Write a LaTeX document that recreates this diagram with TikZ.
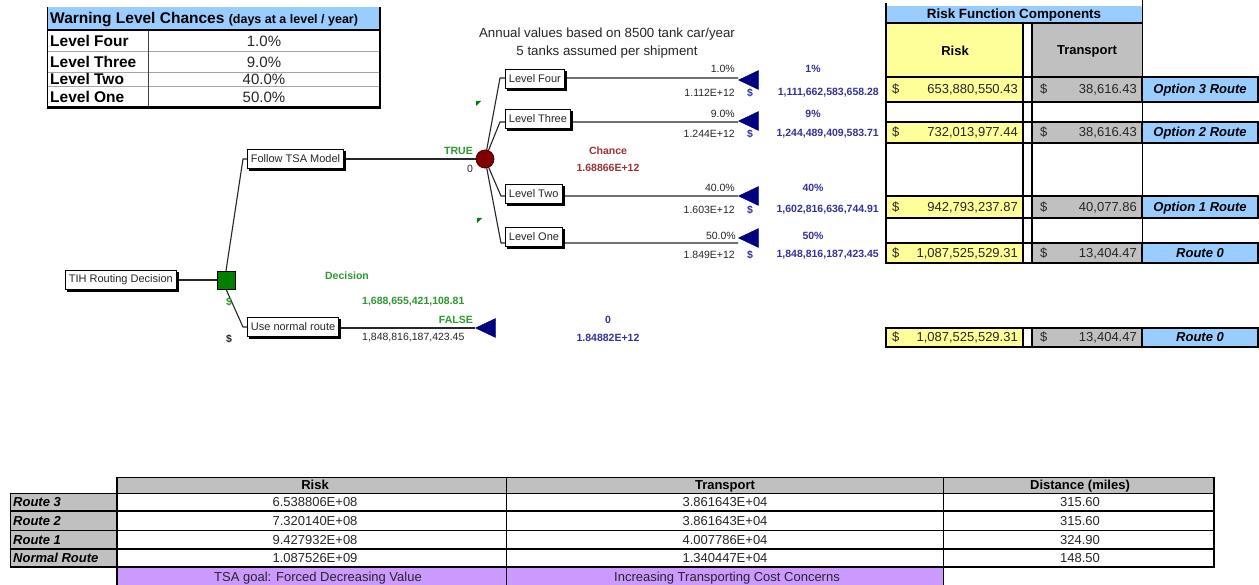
\documentclass[tikz,border=0pt]{standalone}
\usepackage{fontspec}
\setmainfont{Liberation Sans}
\usetikzlibrary{shapes.geometric,shadows}

\definecolor{hdrblue}{HTML}{99CCFF}
\definecolor{cellyellow}{HTML}{FFFF99}
\definecolor{cellgray}{HTML}{C0C0C0}
\definecolor{cellpurple}{HTML}{CC99FF}
\definecolor{decgreen}{HTML}{008000}
\definecolor{txtgreen}{HTML}{2E9A2E}
\definecolor{chred}{HTML}{800000}
\definecolor{chtxt}{HTML}{993333}
\definecolor{navy}{HTML}{000080}
\definecolor{valblue}{HTML}{333399}
\definecolor{ink}{HTML}{262626}

\pgfdeclarelayer{bg}
\pgfsetlayers{bg,main}

\tikzset{
  fs/.style={font=\fontsize{#1}{#1}\selectfont},
  fsb/.style={font=\fontsize{#1}{#1}\selectfont\bfseries},
  plain/.style={inner sep=0pt, text=ink},
  treebox/.style={draw=black, fill=white, line width=0.8pt, inner xsep=3.5pt,
    inner ysep=0pt, minimum height=19pt, anchor=west, text=ink,
    font=\fontsize{11}{11}\selectfont,
    copy shadow={shadow xshift=2pt, shadow yshift=-2pt, draw=black, fill=black}},
  treeline/.style={draw=black!85, line width=1.1pt},
  term/.style={isosceles triangle, isosceles triangle stretches,
    shape border rotate=180, minimum width=19pt, minimum height=20pt,
    inner sep=0pt, fill=navy, draw=navy},
  tblk/.style={draw=black, line width=1.6pt},
  tthin/.style={draw=black, line width=1pt},
  cell/.style={inner sep=0pt, text=ink, font=\fontsize{13}{13}\selectfont},
  optlbl/.style={inner sep=0pt, text=black, font=\fontsize{13}{13}\selectfont\bfseries\itshape},
  bcell/.style={inner sep=0pt, text=ink, font=\fontsize{13}{13}\selectfont},
  blbl/.style={inner sep=0pt, text=black, font=\fontsize{13}{13}\selectfont\bfseries\itshape},
  bhead/.style={inner sep=0pt, text=black, font=\fontsize{13}{13}\selectfont\bfseries},
}

% one valued row of the risk function components table
% #1 name, #2 top, #3 bottom, #4 baseline, #5 risk, #6 transport, #7 route label
\newcommand\rfrow[7]{%
  \fill[cellyellow] (886,#2) rectangle (1023,#3);
  \fill[cellgray] (1032,#2) rectangle (1142,#3);
  \fill[hdrblue] (1142,#2) rectangle (1258,#3);
  \draw[tblk] (886,#2) rectangle (1023,#3) (1023,#2) rectangle (1032,#3)
    (1032,#2) rectangle (1142,#3) (1142,#2) rectangle (1258,#3);
  \node[cell, anchor=base west] (#1d1) at (892,#4) {\$};
  \node[cell, anchor=base east] (#1r) at (1018,#4) {#5};
  \node[cell, anchor=base west] (#1d2) at (1040,#4) {\$};
  \node[cell, anchor=base east] (#1t) at (1137,#4) {#6};
  \node[optlbl, anchor=base] (#1o) at (1200,#4) {#7};
}

% one data row of the route summary table
% #1 name, #2 top, #3 bottom, #4 baseline, #5 label, #6 risk, #7 transport, #8 distance
\newcommand\btrow[8]{%
  \fill[cellgray] (10,#2) rectangle (117,#3);
  \draw[tthin] (10,#2) rectangle (117,#3) (117,#2) rectangle (506,#3)
    (506,#2) rectangle (943,#3) (943,#2) rectangle (1214,#3);
  \node[blbl, anchor=base west] (#1l) at (13,#4) {#5};
  \node[bcell, anchor=base] (#1r) at (315,#4) {#6};
  \node[bcell, anchor=base] (#1t) at (725,#4) {#7};
  \node[bcell, anchor=base] (#1d) at (1080,#4) {#8};
}

\begin{document}
\begin{tikzpicture}[x=1pt,y=-1pt]
\useasboundingbox (0,0) rectangle (1259,585);
\begin{pgfonlayer}{bg}
  \fill[white] (0,0) rectangle (1259,585);
\end{pgfonlayer}

% ---------- warning level chances ----------
\fill[hdrblue] (47,7) rectangle (379,30);
\node[fsb=15.5, plain, text=black, anchor=base west] (wtitle) at (50,24)
  {Warning Level Chances {\fontsize{12.5}{12.5}\selectfont (days at a level / year)}};
\draw[gray!70, line width=0.7pt] (47,51) -- (379,51) (47,72) -- (379,72) (47,86) -- (379,86);
\draw[black!75, line width=0.8pt] (148,30) -- (148,107);
\draw[black, line width=0.8pt] (47,7) -- (47,107);
\draw[black, line width=1.5pt] (47,30) -- (380,30);
\draw[black, line width=2.5pt] (380,7) -- (380,108.5);
\draw[black, line width=2.5pt] (47,107.5) -- (381,107.5);
\node[fsb=15.5, plain, text=black, anchor=base west] (w4) at (50,47) {Level Four};
\node[fsb=15.5, plain, text=black, anchor=base west] (w3) at (50,68) {Level Three};
\node[fsb=15.5, plain, text=black, anchor=base west] (w2) at (50,85) {Level Two};
\node[fsb=15.5, plain, text=black, anchor=base west] (w1) at (50,103) {Level One};
\node[fs=15, plain, anchor=base] (v4) at (264,47) {1.0\%};
\node[fs=15, plain, anchor=base] (v3) at (264,68) {9.0\%};
\node[fs=15, plain, anchor=base] (v2) at (264,85) {40.0\%};
\node[fs=15, plain, anchor=base] (v1) at (264,103) {50.0\%};

% ---------- caption ----------
\node[fs=13.3, plain] (cap1) at (607,34) {Annual values based on 8500 tank car/year};
\node[fs=13.3, plain] (cap2) at (607,52) {5 tanks assumed per shipment};

% ---------- decision tree ----------
\node[treebox] (tih) at (65,280) {TIH Routing Decision};
\node[draw=black, fill=decgreen, minimum size=18pt, inner sep=0pt] (dec) at (226,280) {};
\node[treebox] (tsa) at (247,159) {Follow TSA Model};
\node[treebox] (nrm) at (247,327) {Use normal route};
\node[circle, fill=chred, draw=chred!60!black, line width=0.8pt, minimum size=18pt, inner sep=0pt] (ch) at (485,159) {};

\node[treebox] (l4) at (505,79) {Level Four};
\node[treebox] (l3) at (505,119) {Level Three};
\node[treebox] (l2) at (505,194) {Level Two};
\node[treebox] (l1) at (505,236.5) {Level One};

\node[term, anchor=apex] (t4) at (738,80) {};
\node[term, anchor=apex] (t3) at (738,121) {};
\node[term, anchor=apex] (t2) at (738,196) {};
\node[term, anchor=apex] (t1) at (738,238) {};
\node[term, anchor=apex] (tf) at (475,328) {};

\coordinate (kT) at (243,159);
\coordinate (kN) at (243,327);
\coordinate (b4) at (500,78);
\coordinate (b3) at (500,122);
\coordinate (b2) at (501,196);
\coordinate (b1) at (501,243);

\begin{pgfonlayer}{bg}
  \draw[treeline] (tih.east) -- (dec.west);
  \draw[treeline] (dec.north) -- (kT) -- (tsa.west);
  \draw[treeline] (dec.south) -- (kN) -- (nrm.west);
  \draw[treeline] (tsa.east) -- (ch.center);
  \draw[treeline] (nrm.east |- tf.apex) -- (tf.apex);
  \draw[treeline] (ch.center) -- (b4) -- (t4.apex |- b4);
  \draw[treeline] (ch.center) -- (b3) -- (t3.apex |- b3);
  \draw[treeline] (ch.center) -- (b2) -- (t2.apex |- b2);
  \draw[treeline] (ch.center) -- (b1) -- (t1.apex |- b1);
\end{pgfonlayer}

% small green markers
\fill[decgreen] (476,101) -- (481,101) -- (476,106) -- cycle;
\fill[decgreen] (477,218) -- (482,218) -- (477,223) -- cycle;

% decision labels
\node[fsb=10.5, plain, text=txtgreen] (declbl) at (347,276) {Decision};
\node[fsb=10.5, plain, text=txtgreen, anchor=west] (decval) at (362,302) {1,688,655,421,108.81};
\node[fsb=10.5, plain, text=txtgreen] (dsg1) at (229,302) {\$};
\node[fsb=10.5, plain] (dsg2) at (229,339) {\$};
\node[fsb=10.5, plain, text=txtgreen, anchor=east] (truelbl) at (473,151) {TRUE};
\node[fs=10.5, plain] (truev) at (470,169) {0};
\node[fsb=10.5, plain, text=txtgreen, anchor=east] (falselbl) at (473,320) {FALSE};
\node[fs=10.5, plain, anchor=west] (falsev) at (362,338) {1,848,816,187,423.45};
\node[fsb=10.5, plain, text=valblue] (fp) at (608,320) {0};
\node[fsb=10.5, plain, text=valblue] (fv) at (608,338) {1.84882E+12};

% chance labels
\node[fsb=10.5, plain, text=chtxt] (chlbl) at (608,151) {Chance};
\node[fsb=10.5, plain, text=chtxt] (chval) at (608,168) {1.68866E+12};

% branch probabilities and values
\node[fs=10.5, plain, anchor=east] (p4) at (735,69) {1.0\%};
\node[fs=10.5, plain, anchor=east] (e4) at (735,93) {1.112E+12};
\node[fsb=10.5, plain, text=valblue] (s4) at (750,93) {\$};
\node[fsb=10.5, plain, text=valblue] (q4) at (813,69) {1\%};
\node[fsb=10.5, plain, text=valblue, anchor=east] (n4) at (879,93) {1,111,662,583,658.28};

\node[fs=10.5, plain, anchor=east] (p3) at (735,114) {9.0\%};
\node[fs=10.5, plain, anchor=east] (e3) at (735,134) {1.244E+12};
\node[fsb=10.5, plain, text=valblue] (s3) at (750,134) {\$};
\node[fsb=10.5, plain, text=valblue] (q3) at (813,114) {9\%};
\node[fsb=10.5, plain, text=valblue, anchor=east] (n3) at (879,134) {1,244,489,409,583.71};

\node[fs=10.5, plain, anchor=east] (p2) at (735,188) {40.0\%};
\node[fs=10.5, plain, anchor=east] (e2) at (735,210) {1.603E+12};
\node[fsb=10.5, plain, text=valblue] (s2) at (750,210) {\$};
\node[fsb=10.5, plain, text=valblue] (q2) at (813,188) {40\%};
\node[fsb=10.5, plain, text=valblue, anchor=east] (n2) at (879,210) {1,602,816,636,744.91};

\node[fs=10.5, plain, anchor=east] (p1) at (736,236) {50.0\%};
\node[fs=10.5, plain, anchor=east] (e1) at (735,255) {1.849E+12};
\node[fsb=10.5, plain, text=valblue] (s1) at (750,255) {\$};
\node[fsb=10.5, plain, text=valblue] (q1) at (813,236) {50\%};
\node[fsb=10.5, plain, text=valblue, anchor=east] (n1) at (879,255) {1,848,816,187,423.45};

% ---------- risk function components ----------
\fill[hdrblue] (886,6) rectangle (1142,23);
\fill[cellyellow] (886,23) rectangle (1023,77);
\fill[cellgray] (1032,23) rectangle (1142,77);
\node[fsb=13.4, plain, text=black] (rfc) at (1014,15) {Risk Function Components};
\node[fsb=13, plain, text=black] (rfrisk) at (955,51) {Risk};
\node[fsb=13, plain, text=black] (rftrans) at (1087,51) {Transport};
\draw[tblk] (886,23) -- (1142,23) (886,77) -- (1142,77);
\draw[tblk] (886,3) -- (886,263) (1023,23) -- (1023,263) (1032,23) -- (1032,263);
\draw[tthin] (1142,0) -- (1142,263);

\rfrow{rA}{77}{102}{94}{653,880,550.43}{38,616.43}{Option 3 Route}
\rfrow{rB}{122}{143}{137}{732,013,977.44}{38,616.43}{Option 2 Route}
\rfrow{rC}{196}{218}{211.5}{942,793,237.87}{40,077.86}{Option 1 Route}
\rfrow{rD}{243}{263}{257.5}{1,087,525,529.31}{13,404.47}{Route 0}
\rfrow{rE}{328}{347}{342}{1,087,525,529.31}{13,404.47}{Route 0}

% ---------- route summary table ----------
\fill[cellgray] (117,477) rectangle (1214,493);
\draw[tthin] (117,477) rectangle (506,493) (506,477) rectangle (943,493) (943,477) rectangle (1214,493);
\node[bhead, anchor=base] (hr) at (315,489) {Risk};
\node[bhead, anchor=base] (ht) at (725,489) {Transport};
\node[bhead, anchor=base] (hd) at (1080,489) {Distance (miles)};

\btrow{sA}{493}{511}{506.5}{Route 3}{6.538806E+08}{3.861643E+04}{315.60}
\btrow{sB}{511}{530}{525}{Route 2}{7.320140E+08}{3.861643E+04}{315.60}
\btrow{sC}{530}{549}{544}{Route 1}{9.427932E+08}{4.007786E+04}{324.90}
\btrow{sD}{549}{567}{562.5}{Normal Route}{1.087526E+09}{1.340447E+04}{148.50}

\fill[cellpurple] (117,567) rectangle (943,585);
\draw[tthin] (117,567) rectangle (506,585) (506,567) rectangle (943,585);
\node[bcell, anchor=base] (g1) at (318,581) {TSA goal: Forced Decreasing Value};
\node[bcell, anchor=base] (g2) at (727,581) {Increasing Transporting Cost Concerns};

\draw[black, line width=2.2pt] (117,477) -- (117,585) (1214,477) -- (1214,567);
\draw[black, line width=1.8pt] (10,511) -- (1214,511) (10,549) -- (1214,549) (10,567) -- (1214,567);
\end{tikzpicture}
\end{document}
